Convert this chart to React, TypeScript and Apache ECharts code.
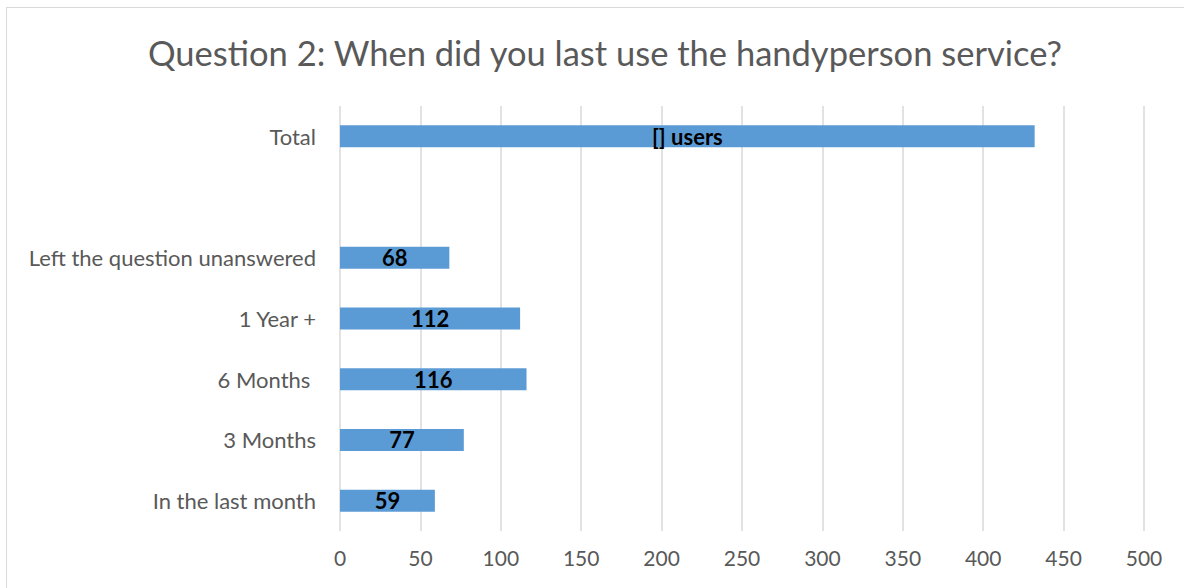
import React, { useEffect, useRef } from "react";
import * as echarts from "echarts";

const titleText = "Question 2: When did you last use the handyperson service?";
const categories = [
  "In the last month",
  "3 Months",
  "6 Months ",
  "1 Year +",
  "Left the question unanswered",
  "",
  "Total",
];
const values: (number | null)[] = [59, 77, 116, 112, 68, null, 432];
const barLabels = ["59", "77", "116", "112", "68", "", "[] users"];
const xTicks = [0, 50, 100, 150, 200, 250, 300, 350, 400, 450, 500];

const FONT = "Lato, 'Open Sans', sans-serif";

export default function App() {
  const ref = useRef<HTMLDivElement>(null);
  useEffect(() => {
    if (!ref.current) return;
    const chart = echarts.init(ref.current, undefined, { renderer: "svg" });
    chart.setOption({
      animation: false,
      title: {
        text: titleText,
        left: 600,
        textAlign: "center",
        top: 30,
        textStyle: { fontFamily: FONT, fontSize: 34.5, fontWeight: "normal", color: "#595959" },
      },
      grid: { left: 340, right: 40, top: 106, bottom: 57, containLabel: false },
      xAxis: {
        type: "value",
        min: xTicks[0],
        max: xTicks[xTicks.length - 1],
        interval: 50,
        axisLine: { show: false },
        axisTick: { show: false },
        axisLabel: { fontFamily: FONT, fontSize: 21, color: "#595959", margin: 16 },
        splitLine: { show: true, lineStyle: { color: "#d9d9d9", width: 1.5 } },
      },
      yAxis: {
        type: "category",
        data: categories,
        axisLine: { show: false },
        axisTick: { show: false },
        axisLabel: { fontFamily: FONT, fontSize: 22, color: "#595959", margin: 24 },
        splitLine: { show: false },
      },
      series: [
        {
          type: "bar",
          data: values,
          barWidth: 22,
          itemStyle: { color: "#5b9bd5" },
          label: {
            show: true,
            position: "inside",
            fontFamily: FONT,
            fontSize: 22,
            fontWeight: "bold",
            color: "#000000",
            formatter: (p: any) => barLabels[p.dataIndex],
          },
        },
      ],
    });
    return () => chart.dispose();
  }, []);
  return (
    <div style={{ position: "fixed", left: 0, top: 0, width: 1184, height: 588, overflow: "hidden", background: "#fff" }}>
      <div
        style={{
          position: "absolute",
          left: 6,
          top: 7,
          width: 1300,
          height: 700,
          border: "1px solid #d9d9d9",
          boxSizing: "border-box",
        }}
      />
      <div ref={ref} style={{ position: "absolute", left: 0, top: 0, width: 1184, height: 588 }} />
    </div>
  );
}
